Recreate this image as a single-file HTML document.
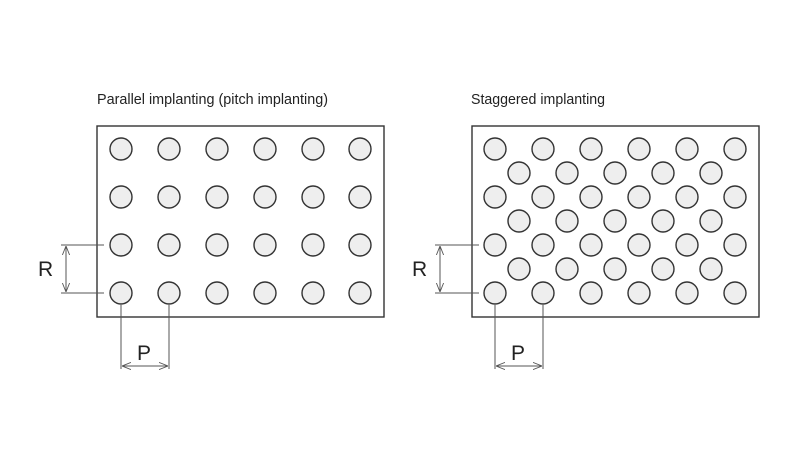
<!DOCTYPE html>
<html><head><meta charset="utf-8"><style>
html,body{margin:0;padding:0;background:#fff;width:800px;height:450px;overflow:hidden}
text{font-family:"Liberation Sans",sans-serif;fill:#222}
</style></head><body>
<svg width="800" height="450" viewBox="0 0 800 450" xmlns="http://www.w3.org/2000/svg">
<defs>
<g id="c"><circle r="11" fill="#eeeeee" stroke="#333" stroke-width="1.4"/></g>
<marker id="a" viewBox="0 0 10 10" refX="10" refY="5" markerWidth="9" markerHeight="9" orient="auto-start-reverse" markerUnits="userSpaceOnUse"><path d="M0,1 L10,5 L0,9" fill="none" stroke="#555" stroke-width="1"/></marker>
<g id="row"><use href="#c" x="121"/><use href="#c" x="169"/><use href="#c" x="217"/><use href="#c" x="265"/><use href="#c" x="313"/><use href="#c" x="360"/></g>
<g id="rowR"><use href="#c" x="495"/><use href="#c" x="543"/><use href="#c" x="591"/><use href="#c" x="639"/><use href="#c" x="687"/><use href="#c" x="735"/></g>
<g id="rowO"><use href="#c" x="519"/><use href="#c" x="567"/><use href="#c" x="615"/><use href="#c" x="663"/><use href="#c" x="711"/></g>
</defs>
<text x="97" y="104" font-size="15" textLength="231" lengthAdjust="spacingAndGlyphs">Parallel implanting (pitch implanting)</text>
<text x="471" y="104" font-size="15" textLength="134" lengthAdjust="spacingAndGlyphs">Staggered implanting</text>
<rect x="97" y="126" width="287" height="191" fill="none" stroke="#333" stroke-width="1.4"/>
<rect x="472" y="126" width="287" height="191" fill="none" stroke="#333" stroke-width="1.4"/>
<use href="#row" y="149"/><use href="#row" y="197"/><use href="#row" y="245"/><use href="#row" y="293"/>
<use href="#rowR" y="149"/><use href="#rowR" y="197"/><use href="#rowR" y="245"/><use href="#rowR" y="293"/>
<use href="#rowO" y="173"/><use href="#rowO" y="221"/><use href="#rowO" y="269"/>
<g stroke="#555" stroke-width="1" fill="none">
<line x1="61" y1="245" x2="104" y2="245"/><line x1="61" y1="293" x2="104" y2="293"/>
<line x1="66" y1="246" x2="66" y2="292" marker-start="url(#a)" marker-end="url(#a)"/>
<line x1="121" y1="305" x2="121" y2="369"/><line x1="169" y1="305" x2="169" y2="369"/>
<line x1="122" y1="366" x2="168" y2="366" marker-start="url(#a)" marker-end="url(#a)"/>
<line x1="435" y1="245" x2="479" y2="245"/><line x1="435" y1="293" x2="479" y2="293"/>
<line x1="440" y1="246" x2="440" y2="292" marker-start="url(#a)" marker-end="url(#a)"/>
<line x1="495" y1="305" x2="495" y2="369"/><line x1="543" y1="305" x2="543" y2="369"/>
<line x1="496" y1="366" x2="542" y2="366" marker-start="url(#a)" marker-end="url(#a)"/>
</g>
<text x="38" y="276" font-size="21">R</text>
<text x="412" y="276" font-size="21">R</text>
<text x="137" y="360" font-size="21">P</text>
<text x="511" y="360" font-size="21">P</text>
</svg>
</body></html>
